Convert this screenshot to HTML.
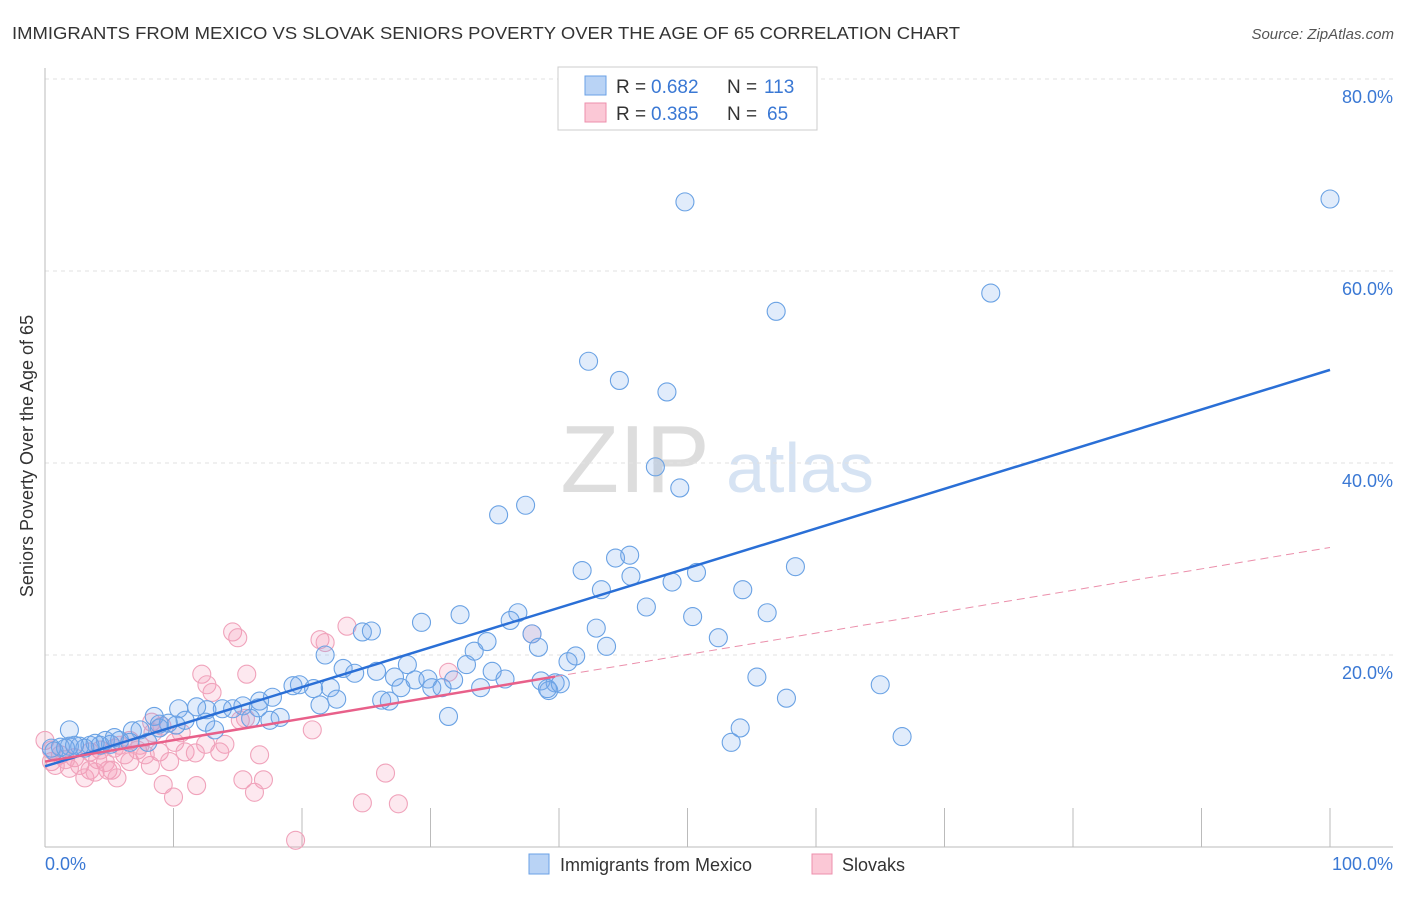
<!DOCTYPE html>
<html><head><meta charset="utf-8"><style>
body{margin:0;background:#fff;font-family:"Liberation Sans",sans-serif}
svg text{font-family:"Liberation Sans",sans-serif}
</style></head><body>
<svg id="c" width="1406" height="892">
<text x="12" y="39" font-size="17.5" fill="#333" textLength="948" lengthAdjust="spacingAndGlyphs">IMMIGRANTS FROM MEXICO VS SLOVAK SENIORS POVERTY OVER THE AGE OF 65 CORRELATION CHART</text>
<text x="1394" y="39" font-size="15" fill="#555" font-style="italic" text-anchor="end">Source: ZipAtlas.com</text>
<text x="635" y="492" font-size="96" fill="#ddd" font-family="Liberation Serif" text-anchor="middle">ZIP</text>
<text x="800" y="492" font-size="70" fill="#d6e3f3" text-anchor="middle">atlas</text>
<text transform="translate(33,456) rotate(-90)" font-size="18" fill="#333" text-anchor="middle">Seniors Poverty Over the Age of 65</text>
<g id="grid"></g><g id="pts"></g><g id="lines"></g>
<g>
<rect x="558" y="67" width="259" height="63" fill="#fff" stroke="#ccc"/>
<rect x="585" y="76" width="21" height="19" fill="#b9d3f5" stroke="#6aa0e6"/>
<rect x="585" y="103" width="21" height="19" fill="#fbc8d6" stroke="#ee8fac"/>
<text x="616" y="93" font-size="19" fill="#333">R =</text>
<text x="651" y="93" font-size="19" fill="#3a78d4">0.682</text>
<text x="727" y="93" font-size="19" fill="#333">N =</text>
<text x="764" y="93" font-size="19" fill="#3a78d4">113</text>
<text x="616" y="120" font-size="19" fill="#333">R =</text>
<text x="651" y="120" font-size="19" fill="#3a78d4">0.385</text>
<text x="727" y="120" font-size="19" fill="#333">N =</text>
<text x="767" y="120" font-size="19" fill="#3a78d4">65</text>
</g>
<g>
<rect x="529" y="854" width="20" height="20" fill="#b9d3f5" stroke="#6aa0e6"/>
<text x="560" y="871" font-size="18" fill="#333">Immigrants from Mexico</text>
<rect x="812" y="854" width="20" height="20" fill="#fbc8d6" stroke="#ee8fac"/>
<text x="842" y="871" font-size="18" fill="#333">Slovaks</text>
</g>
<text x="45" y="870" font-size="18" fill="#3a78d4">0.0%</text>
<text x="1393" y="870" font-size="18" fill="#3a78d4" text-anchor="end">100.0%</text>
</svg>
<script>
const yTicks=[20,40,60,80];
const yTickLabels=["20.0%","40.0%","60.0%","80.0%"];
const xTicks=[10,20,30,40,50,60,70,80,90,100];
const blueTrend=[8.4,49.7];
const pinkTrend=[8.9,31.2];
const pinkSolidEnd=39.7;
const bluePx=[[685,202],[1330,199],[991,293],[776,311],[588,361],[620,380],[667,392],[655,467],[680,488],[498,515],[525,505],[615,558],[630,555],[582,571],[631,576],[697,572],[796,567],[672,582],[602,590],[743,590],[647,607],[767,613],[518,613],[510,620],[693,617],[460,615],[422,622],[596,628],[363,632],[371,631],[532,634],[718,638],[487,642],[538,647],[607,646],[325,655],[474,651],[576,656],[568,662],[466,665],[343,668],[355,673],[376,671],[408,665],[492,671],[395,677],[415,680],[428,679],[453,680],[505,679],[757,677],[880,685],[541,681],[555,683],[549,691],[300,685],[330,688],[401,688],[432,688],[442,688],[481,688],[313,689],[293,686],[272,697],[260,701],[337,699],[382,700],[389,701],[320,705],[258,708],[243,706],[232,709],[222,709],[207,710],[178,709],[196,707],[448,716],[787,698],[280,717],[250,718],[270,720],[185,720],[154,716],[205,722],[168,723],[160,724],[140,730],[215,730],[132,731],[69,730],[740,728],[902,737],[731,742],[120,740],[106,740],[100,745],[90,745],[80,746],[70,746],[60,747],[52,748],[130,742],[148,742],[110,744],[54,751],[160,728],[176,725],[547,689],[560,684],[115,738],[95,743],[85,748],[66,748],[75,745]];
const pinkPx=[[233,632],[238,638],[347,626],[320,640],[325,643],[532,634],[202,674],[247,674],[207,685],[212,692],[448,672],[152,722],[162,726],[240,720],[245,718],[153,733],[181,733],[312,730],[175,742],[205,744],[225,744],[130,740],[120,745],[115,748],[140,745],[100,750],[160,752],[90,752],[260,755],[185,752],[195,753],[220,752],[60,755],[75,758],[52,762],[45,740],[80,765],[70,768],[105,763],[130,762],[112,770],[150,765],[170,762],[90,770],[85,778],[108,770],[117,778],[55,765],[243,780],[263,780],[385,773],[163,785],[197,786],[255,792],[173,797],[363,803],[399,804],[295,840],[65,760],[125,755],[138,750],[98,760],[145,755],[52,750],[95,772]];
const blueX=bluePx.map(p=>+((p[0]-45)/12.85).toFixed(1));
const blueY=bluePx.map(p=>+((847-p[1])/9.6).toFixed(1));
const pinkX=pinkPx.map(p=>+((p[0]-45)/12.85).toFixed(1));
const pinkY=pinkPx.map(p=>+((847-p[1])/9.6).toFixed(1));
const X=v=>45+v*12.85, Y=v=>847-v*9.6;
const NS="http://www.w3.org/2000/svg";
function mk(t,a,p){const e=document.createElementNS(NS,t);for(const k in a)e.setAttribute(k,a[k]);p.appendChild(e);return e;}
const g=document.getElementById('grid');
yTicks.forEach((v,i)=>{
 const l=mk('line',{x1:45,x2:1393,y1:Y(v),y2:Y(v),stroke:'#e2e2e2','stroke-dasharray':'4,4'},g);
 
 
 const t=mk('text',{x:1393,y:Y(v)+24,'text-anchor':'end','font-size':18,fill:'#3a78d4'},g);t.textContent=yTickLabels[i];
 
 
});
mk('line',{x1:45,x2:1393,y1:Y(0),y2:Y(0),stroke:'#bbb'},g);
mk('line',{x1:45,x2:45,y1:68,y2:847,stroke:'#bbb'},g);
xTicks.forEach(v=>{const l=mk('line',{x1:X(v),x2:X(v),y1:808,y2:847,stroke:'#bbb'},g);
 
 });
const pg=document.getElementById('pts');
pinkX.forEach((x,i)=>{const c=mk('circle',{cx:X(x),cy:Y(pinkY[i]),r:9,fill:'rgba(244,150,180,0.22)',stroke:'#f0a3bb','stroke-width':1.1},pg);
 
 });
blueX.forEach((x,i)=>{const c=mk('circle',{cx:X(x),cy:Y(blueY[i]),r:9,fill:'rgba(120,170,235,0.22)',stroke:'#6aa2e4','stroke-width':1.1},pg);
 
 });
const lg=document.getElementById('lines');
const pAt=x=>pinkTrend[0]+(pinkTrend[1]-pinkTrend[0])*x/100;
let l=mk('line',{x1:X(0),y1:Y(blueTrend[0]),x2:X(100),y2:Y(blueTrend[1]),stroke:'#2a6fd6','stroke-width':2.5},lg);


l=mk('line',{x1:X(0),y1:Y(pAt(0)),x2:X(pinkSolidEnd),y2:Y(pAt(pinkSolidEnd)),stroke:'#e8608a','stroke-width':2.5},lg);


l=mk('line',{x1:X(pinkSolidEnd),y1:Y(pAt(pinkSolidEnd)),x2:X(100),y2:Y(pAt(100)),stroke:'#eb8fab','stroke-width':1,'stroke-dasharray':'8,5'},lg);


</script>
</body></html>
